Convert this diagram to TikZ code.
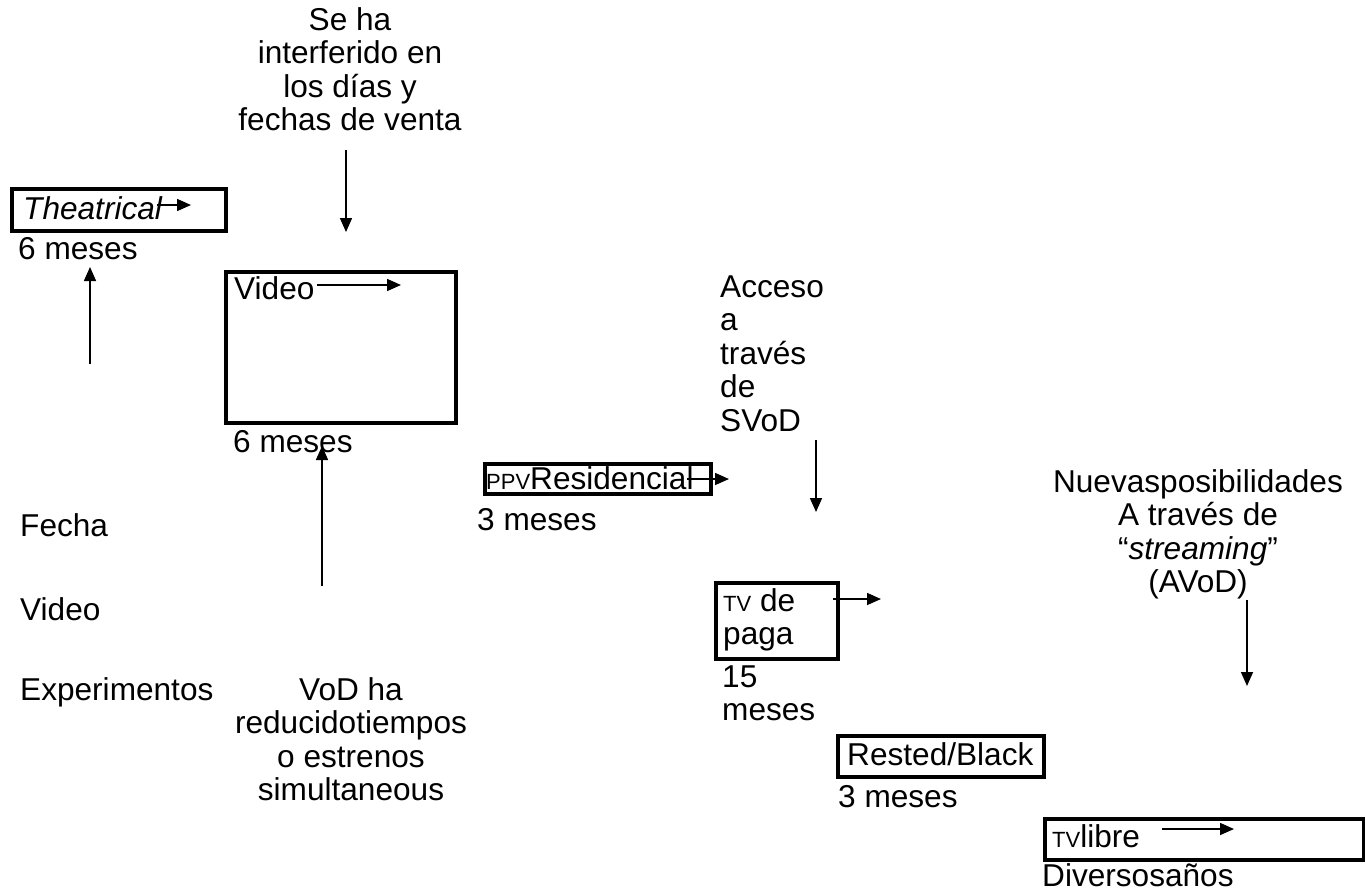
\documentclass[tikz,border=0pt]{standalone}
\usepackage{fontspec}
\setmainfont{Liberation Sans}
\usetikzlibrary{arrows.meta}
\newcommand\smc[1]{{\fontsize{22}{22}\selectfont #1}}
\begin{document}
\begin{tikzpicture}[x=1pt,y=-1pt,
  txt/.style={anchor=base west,inner sep=0pt,font=\fontsize{31.6}{33.5}\selectfont},
  ctxt/.style={anchor=base,inner sep=0pt,align=center,font=\fontsize{31.6}{33.5}\selectfont},
  ltxt/.style={anchor=base west,inner sep=0pt,align=left,font=\fontsize{31.6}{33.5}\selectfont},
  box/.style={draw,line width=3.5pt,anchor=north west,inner sep=0pt},
  arr/.style={line width=1.5pt,-{Triangle[length=14pt,width=12pt]}}]
\useasboundingbox (0,0) rectangle (1365,892);

% boxes
\node[box,minimum width=214pt,minimum height=42pt] (thbox) at (10,187) {};
\node[box,minimum width=230pt,minimum height=151pt] (vidbox) at (224,270) {};
\node[box,minimum width=226pt,minimum height=30pt] (ppvbox) at (483,462) {};
\node[box,minimum width=122pt,minimum height=76pt] (tvbox) at (714,581) {};
\node[box,minimum width=206pt,minimum height=41pt] (rbbox) at (836,734) {};
\node[box,minimum width=319pt,minimum height=41pt] (tvlbox) at (1043,817) {};

% texts (multi-line nodes are anchored at the baseline of their last line)
\node[txt] (th) at (23,219) {\itshape Theatrical};
\node[txt] (th6) at (18,259) {6 meses};
\node[ctxt] (sehan) at (350,130.5) {Se ha\\interferido en\\los días y\\fechas de venta};
\node[txt] (vid) at (234,299) {Video};
\node[txt] (vid6) at (233,452) {6 meses};
\node[ltxt] (acc) at (720,431) {Acceso\\a\\través\\de\\SVoD};
\node[txt] (ppv) at (486,489) {\smc{PPV}Residencial};
\node[txt] (ppv3) at (477,530) {3 meses};
\node[txt] (fecha) at (20,536) {Fecha};
\node[txt] (video2) at (20,620) {Video};
\node[txt] (exper) at (20,700) {Experimentos};
\node[ctxt] (vod) at (351,800.5) {VoD ha\\reducidotiempos\\o estrenos\\simultaneous};
\node[ltxt] (tvde) at (723,644.5) {\smc{TV} de\\paga};
\node[ltxt] (tv15) at (722,720.5) {15\\meses};
\node[txt] (rb) at (847,765) {Rested/Black};
\node[txt] (rb3) at (838,807) {3 meses};
\node[ctxt] (nuevas) at (1198,592.5) {Nuevasposibilidades\\A través de\\“\textit{streaming}”\\(AVoD)};
\node[txt] (tvl) at (1052,847) {\smc{TV}libre};
\node[txt] (div) at (1042,886) {Diversosaños};

% arrow coordinates
\coordinate (a1s) at (157,205); \coordinate (a1e) at (191,205);
\coordinate (a2s) at (90,364);  \coordinate (a2e) at (90,267);
\coordinate (a3s) at (317,285); \coordinate (a3e) at (401,285);
\coordinate (a4s) at (346,150); \coordinate (a4e) at (346,232);
\coordinate (a5s) at (322,586); \coordinate (a5e) at (322,446);
\coordinate (a6s) at (687,479); \coordinate (a6e) at (729,479);
\coordinate (a7s) at (816,440); \coordinate (a7e) at (816,512);
\coordinate (a8s) at (833,599); \coordinate (a8e) at (881,599);
\coordinate (a9s) at (1247,600); \coordinate (a9e) at (1247,686);
\coordinate (a10s) at (1162,829); \coordinate (a10e) at (1234,829);

\draw[arr] (a1s) -- (a1e);
\draw[arr] (a2s) -- (a2e);
\draw[arr] (a3s) -- (a3e);
\draw[arr] (a4s) -- (a4e);
\draw[arr] (a5s) -- (a5e);
\draw[arr] (a6s) -- (a6e);
\draw[arr] (a7s) -- (a7e);
\draw[arr] (a8s) -- (a8e);
\draw[arr] (a9s) -- (a9e);
\draw[arr] (a10s) -- (a10e);
\end{tikzpicture}
\end{document}
